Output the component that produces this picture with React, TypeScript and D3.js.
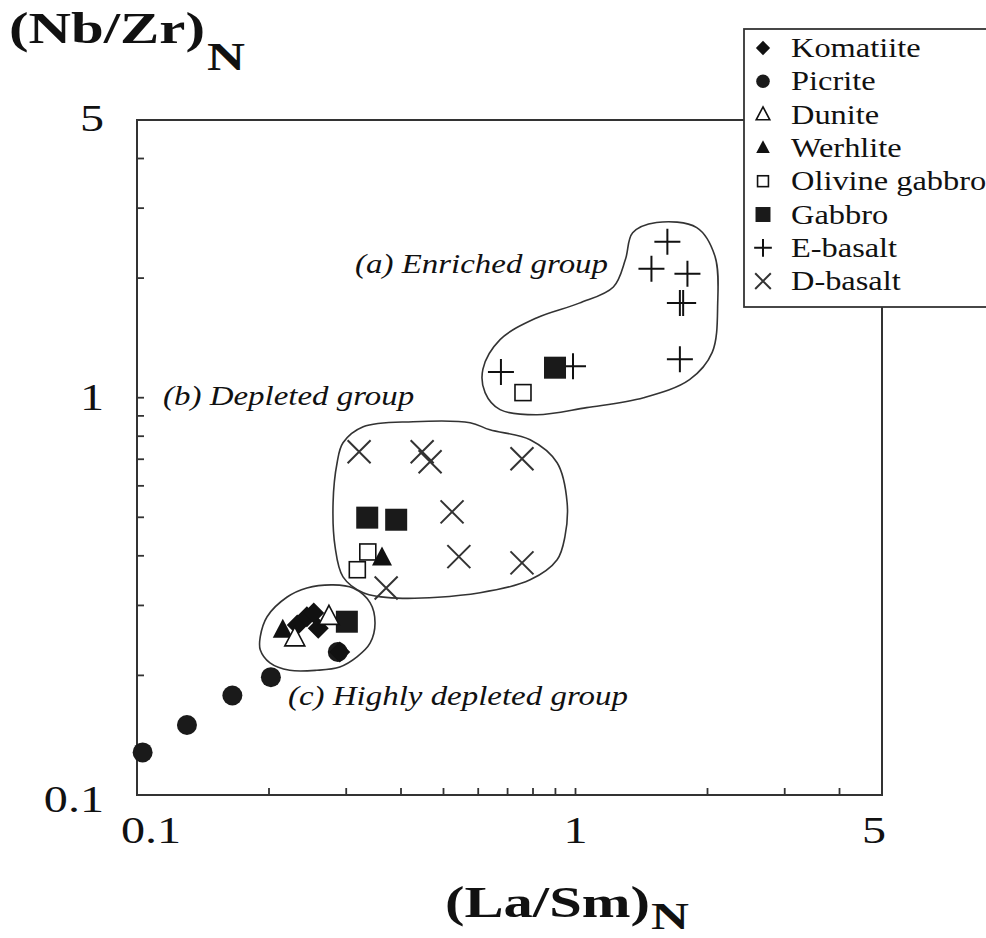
import React from "react";
import * as d3 from "d3";

// ---- Data (La/Sm)N vs (Nb/Zr)N ----
const komatiiteX = [0.232, 0.244, 0.253, 0.259, 0.29];
const komatiiteY = [0.268, 0.281, 0.287, 0.263, 0.229];
const picriteX = [0.103, 0.13, 0.165, 0.202, 0.287];
const picriteY = [0.128, 0.15, 0.178, 0.198, 0.229];
const duniteX = [0.274, 0.229];
const duniteY = [0.281, 0.248];
const werhliteX = [0.215, 0.362];
const werhliteY = [0.26, 0.395];
const olivineGabbroX = [0.336, 0.318, 0.759];
const olivineGabbroY = [0.409, 0.369, 1.03];
const gabbroX = [0.335, 0.39, 0.898, 0.301];
const gabbroY = [0.499, 0.493, 1.19, 0.273];
const eBasaltX = [1.62, 1.49, 1.8, 1.73, 1.76, 1.73, 0.676, 0.987];
const eBasaltY = [2.47, 2.11, 2.05, 1.73, 1.73, 1.25, 1.16, 1.2];
const dBasaltX = [0.321, 0.447, 0.466, 0.755, 0.523, 0.542, 0.755, 0.37];
const dBasaltY = [0.731, 0.731, 0.69, 0.702, 0.516, 0.398, 0.384, 0.332];

// group envelopes (data space)
const enrichedEnvelope: [number, number][] = [
  [0.615, 1.18], [0.673, 1.4], [0.817, 1.59], [1.02, 1.73], [1.22, 1.9], [1.3, 2.23],
  [1.35, 2.6], [1.53, 2.76], [1.89, 2.68], [2.08, 2.27], [2.11, 1.73], [2.05, 1.3],
  [1.82, 1.11], [1.43, 1.0], [1.06, 0.944], [0.817, 0.906], [0.673, 0.933], [0.622, 1.03],
];
const depletedEnvelope: [number, number][] = [
  [0.295, 0.77], [0.328, 0.845], [0.426, 0.87], [0.575, 0.865], [0.638, 0.83], [0.788, 0.784],
  [0.908, 0.686], [0.957, 0.544], [0.946, 0.447], [0.908, 0.391], [0.788, 0.348], [0.606, 0.323],
  [0.392, 0.313], [0.328, 0.323], [0.295, 0.354], [0.283, 0.421], [0.28, 0.544], [0.286, 0.686],
];
const highlyDepletedEnvelope: [number, number][] = [
  [0.191, 0.25], [0.198, 0.281], [0.22, 0.315], [0.244, 0.332], [0.28, 0.338], [0.311, 0.332],
  [0.34, 0.305], [0.349, 0.271], [0.34, 0.241], [0.318, 0.223], [0.29, 0.21], [0.257, 0.206],
  [0.223, 0.206], [0.201, 0.215], [0.191, 0.232],
];

const tickLabels = [0.1, 1, 5];
const minorTicks = [0.2, 0.3, 0.4, 0.5, 0.6, 0.7, 0.8, 0.9, 1, 2, 3, 4];
const legendNames = ["Komatiite", "Picrite", "Dunite", "Werhlite", "Olivine gabbro", "Gabbro", "E-basalt", "D-basalt"];
const groupLabels = ["(a) Enriched group", "(b) Depleted group", "(c) Highly depleted group"];

const FONT = "'Liberation Serif', 'DejaVu Serif', serif";

type Kind = "komatiite" | "picrite" | "dunite" | "werhlite" | "olgab" | "gabbro" | "ebasalt" | "dbasalt";

function Marker({ kind, x, y, s = 1 }: { kind: Kind; x: number; y: number; s?: number }) {
  switch (kind) {
    case "komatiite": {
      const r = 10.5 * s;
      return <path d={`M${x},${y - r}L${x + r},${y}L${x},${y + r}L${x - r},${y}Z`} fill="#111" />;
    }
    case "picrite":
      return <circle cx={x} cy={y} r={10 * s} fill="#1a1a1a" />;
    case "dunite":
    case "werhlite": {
      const h = 19 * s, w = 20 * s;
      const d = `M${x},${y - h * 0.6}L${x + w / 2},${y + h * 0.4}L${x - w / 2},${y + h * 0.4}Z`;
      return kind === "dunite" ? (
        <path d={d} fill="white" stroke="#111" strokeWidth={1.6} />
      ) : (
        <path d={d} fill="#111" />
      );
    }
    case "olgab": {
      const a = 16 * s;
      return <rect x={x - a / 2} y={y - a / 2} width={a} height={a} fill="white" stroke="#111" strokeWidth={1.6} />;
    }
    case "gabbro": {
      const a = 22 * s;
      return <rect x={x - a / 2} y={y - a / 2} width={a} height={a} fill="#1a1a1a" />;
    }
    case "ebasalt": {
      const r = 13 * s;
      return (
        <path d={`M${x - r},${y}H${x + r}M${x},${y - r}V${y + r}`} stroke="#111" strokeWidth={2} fill="none" />
      );
    }
    case "dbasalt": {
      const r = 11.5 * s;
      return (
        <path d={`M${x - r},${y - r}L${x + r},${y + r}M${x - r},${y + r}L${x + r},${y - r}`} stroke="#333" strokeWidth={2} fill="none" />
      );
    }
  }
  return null;
}

// text stretched horizontally (the reference's type is wide)
function SText({ x, y, sx = 1.25, size, anchor = "start", weight, italic, children }: any) {
  return (
    <text
      transform={`translate(${x},${y}) scale(${sx},1)`}
      textAnchor={anchor}
      fontFamily={FONT}
      fontSize={size}
      fontWeight={weight}
      fontStyle={italic ? "italic" : undefined}
      fill="#111"
    >
      {children}
    </text>
  );
}

export default function App() {
  const x = d3.scaleLog().domain([0.1, 5]).range([137, 882]);
  const y = d3.scaleLog().domain([0.1, 5]).range([795, 120]);

  const envelope = d3
    .line<[number, number]>()
    .x((d) => x(d[0]))
    .y((d) => y(d[1]))
    .curve(d3.curveCatmullRomClosed.alpha(0.5));

  const series: { kind: Kind; xs: number[]; ys: number[] }[] = [
    { kind: "dbasalt", xs: dBasaltX, ys: dBasaltY },
    { kind: "ebasalt", xs: eBasaltX, ys: eBasaltY },
    { kind: "picrite", xs: picriteX, ys: picriteY },
    { kind: "werhlite", xs: werhliteX, ys: werhliteY },
    { kind: "komatiite", xs: komatiiteX, ys: komatiiteY },
    { kind: "gabbro", xs: gabbroX, ys: gabbroY },
    { kind: "olgab", xs: olivineGabbroX, ys: olivineGabbroY },
    { kind: "dunite", xs: duniteX, ys: duniteY },
  ];
  const legendKinds: Kind[] = ["komatiite", "picrite", "dunite", "werhlite", "olgab", "gabbro", "ebasalt", "dbasalt"];
  const [x0, x1] = x.range();
  const [y0, y1] = y.range();
  const xLabelShift = [14, 0, -8];
  const yLabelShift = [17, 12, 11];
  const groupPos = [[355, 273], [163, 405], [288, 705]];

  return (
    <svg width={986} height={938} style={{ position: "absolute", left: 0, top: 0, background: "white" }}>
      <rect width={986} height={938} fill="white" />
      {/* envelopes */}
      {[enrichedEnvelope, depletedEnvelope, highlyDepletedEnvelope].map((e, i) => (
        <path key={i} d={envelope(e) || ""} fill="none" stroke="#333" strokeWidth={1.6} />
      ))}
      {/* frame */}
      <rect x={x0} y={y1} width={x1 - x0} height={y0 - y1} fill="none" stroke="#333" strokeWidth={2} />
      {/* ticks */}
      {minorTicks.map((t) => (
        <g key={t}>
          <line x1={x(t)} x2={x(t)} y1={y0} y2={y0 - 7} stroke="#333" strokeWidth={1.8} />
          <line x1={x0} x2={x0 + 7} y1={y(t)} y2={y(t)} stroke="#333" strokeWidth={1.8} />
        </g>
      ))}
      {tickLabels.map((t, i) => (
        <g key={t}>
          <SText x={x(t) + xLabelShift[i]} y={y0 + 48} size={37} sx={1.3} anchor="middle">
            {d3.format("~g")(t)}
          </SText>
          <SText x={104} y={y(t) + yLabelShift[i]} size={37} sx={1.3} anchor="end">
            {d3.format("~g")(t)}
          </SText>
        </g>
      ))}
      {/* points */}
      {series.map((s) =>
        s.xs.map((v, i) => <Marker key={s.kind + i} kind={s.kind} x={x(v)} y={y(s.ys[i])} />)
      )}
      {/* annotations */}
      {groupLabels.map((g, i) => (
        <SText key={g} x={groupPos[i][0]} y={groupPos[i][1]} size={27} sx={1.22} italic>
          {g}
        </SText>
      ))}
      {/* axis titles */}
      <text x={9} y={43} fontFamily={FONT} fontWeight="bold" fontSize={44} fill="#111" textLength={196} lengthAdjust="spacingAndGlyphs">
        (Nb/Zr)
      </text>
      <text x={207} y={70} fontFamily={FONT} fontWeight="bold" fontSize={40} fill="#111" textLength={38} lengthAdjust="spacingAndGlyphs">
        N
      </text>
      <text x={445} y={917} fontFamily={FONT} fontWeight="bold" fontSize={44} fill="#111" textLength={205} lengthAdjust="spacingAndGlyphs">
        (La/Sm)
      </text>
      <text x={651} y={929} fontFamily={FONT} fontWeight="bold" fontSize={38} fill="#111" textLength={38} lengthAdjust="spacingAndGlyphs">
        N
      </text>
      {/* legend */}
      <rect x={744} y={29} width={300} height={278} fill="white" stroke="#333" strokeWidth={1.8} />
      {legendNames.map((n, i) => (
        <g key={n}>
          <Marker kind={legendKinds[i]} x={763} y={48 + i * 33.3} s={0.68} />
          <SText x={791} y={57 + i * 33.3} size={27} sx={1.2}>
            {n}
          </SText>
        </g>
      ))}
    </svg>
  );
}
